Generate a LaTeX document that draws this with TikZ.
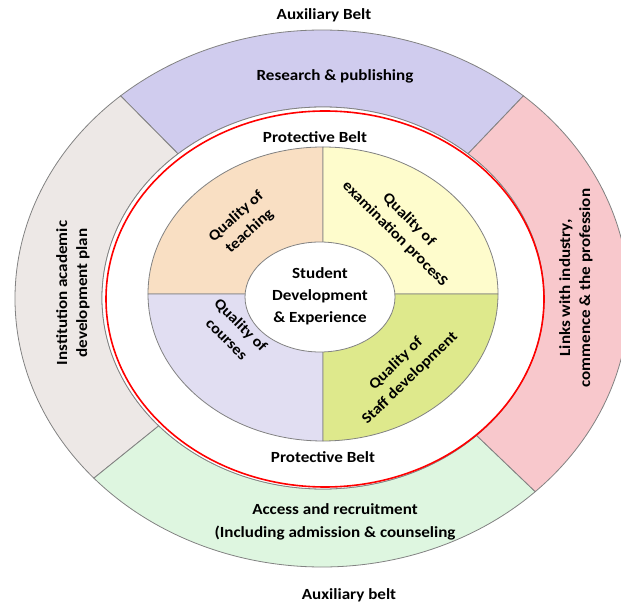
\documentclass[tikz,border=0pt]{standalone}
\usepackage{fontspec}
\setmainfont{Carlito}[FakeStretch=1.1]
\usetikzlibrary{calc}
\definecolor{cresearch}{RGB}{208,204,238}
\definecolor{cinst}{RGB}{237,232,230}
\definecolor{clinks}{RGB}{248,200,204}
\definecolor{caccess}{RGB}{222,246,224}
\definecolor{cteach}{RGB}{249,223,195}
\definecolor{cexam}{RGB}{254,252,204}
\definecolor{ccourse}{RGB}{225,222,242}
\definecolor{cstaff}{RGB}{222,233,140}
\definecolor{cline}{RGB}{130,130,130}
\newcommand\beltsector[3]{%
  \path[fill=#1,draw=cline,line width=0.8pt]
    ($(O)+(#2:307 and 268.5)$) arc[start angle=#2,end angle=#3,x radius=307,y radius=268.5]
    -- ($(I)+(#3:221 and 191)$) arc[start angle=#3,end angle=#2,x radius=221,y radius=191] -- cycle;}
\newcommand\quadpiece[3]{%
  \path[fill=#1,draw=cline,line width=0.8pt]
    (M) -- ($(M)+(#2:175 and 147)$) arc[start angle=#2,end angle=#3,x radius=175,y radius=147] -- cycle;}
\tikzset{
  lbl/.style={font=\fontsize{15.5}{20}\selectfont\bfseries,align=center,text=black,inner sep=0pt},
  qlbl/.style={font=\fontsize{15}{20}\selectfont\bfseries,align=center,text=black,inner sep=0pt},
}
\begin{document}
\begin{tikzpicture}[x=1pt,y=1pt]
\useasboundingbox (0,0) rectangle (621,608);
\coordinate (O) at (322,309.5);
\coordinate (I) at (323,310);
\coordinate (M) at (323,314);
\coordinate (C) at (320,311);
% auxiliary belt sectors
\beltsector{cresearch}{49}{131}
\beltsector{cinst}{131}{222}
\beltsector{caccess}{222}{314}
\beltsector{clinks}{-46}{49}
% protective belt (white)
\path[fill=white,draw=cline,line width=0.8pt] (I) ellipse[x radius=221,y radius=191];
\draw[red,line width=1.6pt] (325,309) ellipse[x radius=219,y radius=188];
% quadrants
\quadpiece{cteach}{90}{180}
\quadpiece{cexam}{0}{90}
\quadpiece{ccourse}{180}{270}
\quadpiece{cstaff}{270}{360}
\path[fill=white,draw=cline,line width=0.8pt] (C) ellipse[x radius=75,y radius=55];
% labels
\node[lbl] (auxtop) at (324,593) {Auxiliary Belt};
\node[lbl] (research) at (335,532) {Research \& publishing};
\node[lbl] (protop) at (315,471) {Protective Belt};
\node[lbl] (probot) at (323,151) {Protective Belt};
\node[lbl] (access) at (335,86.5) {Access and recruitment\\[3pt](Including admission \& counseling};
\node[lbl] (auxbot) at (349,13) {Auxiliary belt};
\node[lbl,rotate=90] (inst) at (73,315) {Institution academic\\development plan};
\node[lbl,rotate=90] (links) at (576,320) {Links with industry,\\commence \& the profession};
\node[qlbl,rotate=42] (teach) at (243,384) {Quality of\\teaching};
\node[qlbl,rotate=-45] (exam) at (402,381) {Quality of\\examination procesS};
\node[qlbl,rotate=-45] (course) at (234,276) {Quality of\\courses};
\node[qlbl,rotate=44] (staff) at (403,237) {Quality of\\Staff development};
\node[qlbl,font=\fontsize{15.5}{22}\selectfont\bfseries] (student) at (320,312) {Student\\Development\\\& Experience};
\end{tikzpicture}
\end{document}
